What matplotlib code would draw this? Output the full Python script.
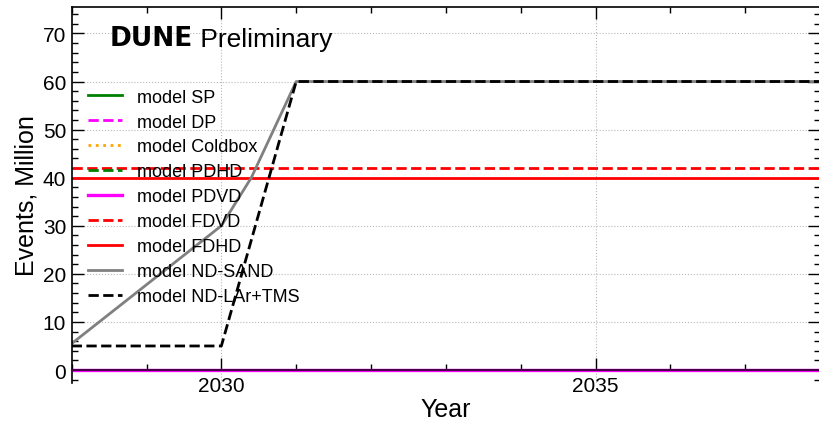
import matplotlib
matplotlib.use('Agg')
import matplotlib.pyplot as plt
from matplotlib.ticker import MultipleLocator

plt.rcParams['font.family'] = ['Liberation Sans', 'DejaVu Sans']

# ---- data ----
span_years = [2028, 2038]
sp_vals = [0, 0]
dp_vals = [0, 0]
coldbox_vals = [0, 0]
pdhd_vals = [0, 0]
pdvd_vals = [0, 0]
fdvd_vals = [42, 42]
fdhd_vals = [40, 40]
sand_years = [2028, 2030, 2030.4, 2031, 2038]
sand_vals = [5.5, 30, 40, 60, 60]
lar_years = [2028, 2030, 2031, 2038]
lar_vals = [5, 5, 60, 60]

labels = ['model SP', 'model DP', 'model Coldbox', 'model PDHD', 'model PDVD',
          'model FDVD', 'model FDHD', 'model ND-SAND', 'model ND-LAr+TMS']

fig = plt.figure(figsize=(8.19, 4.27), dpi=100)
ax = fig.add_axes([71.7 / 819, 43 / 427, (820 - 71.7) / 819, (384 - 8) / 427])

lw = 2.0
ax.plot(span_years, sp_vals, color='green', lw=lw, ls='-', label=labels[0])
ax.plot(span_years, dp_vals, color='magenta', lw=lw, ls='--', label=labels[1])
ax.plot(span_years, coldbox_vals, color='orange', lw=lw, ls=':', label=labels[2])
ax.plot(span_years, pdhd_vals, color='green', lw=lw, ls='--', label=labels[3])
ax.plot(span_years, pdvd_vals, color='magenta', lw=2.4, ls='-', label=labels[4])
ax.plot(span_years, fdvd_vals, color='red', lw=lw, ls='--', label=labels[5])
ax.plot(span_years, fdhd_vals, color='red', lw=lw, ls='-', label=labels[6])
ax.plot(sand_years, sand_vals, color='gray', lw=lw, ls='-', label=labels[7])
ax.plot(lar_years, lar_vals, color='black', lw=lw, ls='--', label=labels[8])

ax.set_xlim(2028, 2038)
ax.set_ylim(-2.7, 75.5)
ax.spines['bottom'].set_position(('data', 0))
for s in ax.spines.values():
    s.set_linewidth(1.2)
ax.spines['bottom'].set_linewidth(1.5)
ax.spines['bottom'].set_color('#4a004a')

ax.xaxis.set_major_locator(MultipleLocator(5))
ax.xaxis.set_minor_locator(MultipleLocator(1))
ax.yaxis.set_major_locator(MultipleLocator(10))
ax.yaxis.set_minor_locator(MultipleLocator(2))
ax.tick_params(which='both', direction='in', top=True, right=True, width=1)
ax.tick_params(which='major', length=8.5, labelsize=15, pad=4)
ax.tick_params(which='minor', length=4.3)
ax.tick_params(axis='x', which='both', color='black')
ax.grid(True, which='major', ls=':', color='#b8b8b8', lw=0.8)
ax.set_axisbelow(True)

ax.set_xlabel('Year', fontsize=18, labelpad=2)
ax.set_ylabel('Events, Million', fontsize=18, labelpad=3)

t = ax.text(0.051, 0.9, 'DUNE', transform=ax.transAxes, fontsize=19,
            fontweight='bold', family=['DejaVu Sans'], va='baseline', ha='left')
ax.annotate(' Preliminary', xy=(1, 0), xycoords=t, fontsize=19,
            va='bottom', ha='left')

ax.legend(loc='upper left', bbox_to_anchor=(0.022, 0.783), frameon=False,
          fontsize=13, borderpad=0, borderaxespad=0, labelspacing=0.44,
          handlelength=1.9, handletextpad=0.8)

fig.savefig('out.png', dpi=100)
